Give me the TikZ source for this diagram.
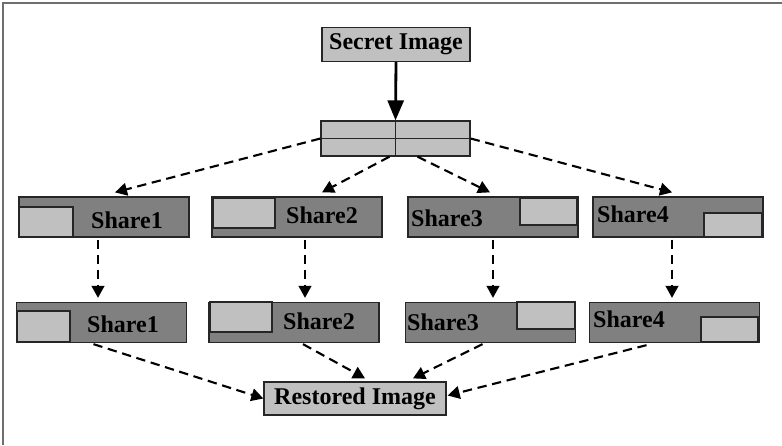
\documentclass[tikz,border=0pt]{standalone}
\usepackage{fontspec}
\setmainfont{Liberation Serif}
\usetikzlibrary{arrows.meta, positioning, calc}
\definecolor{darkshare}{HTML}{808080}
\definecolor{lightshare}{HTML}{C0C0C0}
\definecolor{edgegray}{HTML}{262626}
\definecolor{framegray}{HTML}{6E6E6E}

\begin{document}
\begin{tikzpicture}[
    x=0.03cm, y=-0.03cm,
    imgbox/.style={draw=edgegray, fill=lightshare, line width=1.1pt, minimum width=#1,
                   minimum height=1.02cm, inner sep=0pt, font=\fontsize{20.5}{22}\selectfont\bfseries},
    sharebox/.style={draw=edgegray, fill=darkshare, line width=1.1pt, minimum width=5.1cm,
                     minimum height=1.2cm, inner sep=0pt},
    piece/.style={draw=edgegray, fill=lightshare, line width=1.1pt},
    lbl/.style={font=\fontsize{20.5}{22}\selectfont\bfseries, inner sep=0pt},
    dasharrow/.style={-{Triangle[length=0.36cm,width=0.38cm]}, dash pattern=on 0.28cm off 0.17cm,
                      line width=1.8pt}
]
    \useasboundingbox (0,0) rectangle (782,445);
    \draw[framegray, line width=1.7pt] (3,445) -- (3,3) -- (782,3);

    % top
    \node[imgbox=4.44cm] (secret) at (396,44.5) {Secret Image};
    \node[imgbox=4.47cm, minimum height=1.05cm] (split) at (395.5,138.5) {};
    \draw[edgegray, line width=1pt] (split.north) -- (split.south);
    \draw[edgegray, line width=1pt] (split.west) -- (split.east);

    % shares, first row
    \node[sharebox] (s1a) at (104,217) {};
    \draw[piece] (19,207) rectangle (73,237);
    \node[lbl] (t1a) at (127,220) {Share1};
    \node[sharebox] (s2a) at (297,217) {};
    \draw[piece] (213,198) rectangle (275,228);
    \node[lbl] (t2a) at (322,215) {Share2};
    \node[sharebox] (s3a) at (493,217) {};
    \draw[piece] (520,198) rectangle (577,225);
    \node[lbl] (t3a) at (447,218) {Share3};
    \node[sharebox] (s4a) at (678,217) {};
    \draw[piece] (704,213) rectangle (762,237);
    \node[lbl] (t4a) at (633,214) {Share4};

    % shares, second row
    \node[sharebox] (s1b) at (101.5,322.5) {};
    \draw[piece] (17,311) rectangle (70,342);
    \node[lbl] (t1b) at (123,324) {Share1};
    \node[sharebox] (s2b) at (294,322.5) {};
    \draw[piece] (210,302) rectangle (272,332);
    \node[lbl] (t2b) at (319,321) {Share2};
    \node[sharebox] (s3b) at (490.5,322.5) {};
    \draw[piece] (517,302) rectangle (575,329);
    \node[lbl] (t3b) at (443,322) {Share3};
    \node[sharebox] (s4b) at (674.5,322.5) {};
    \draw[piece] (701,317) rectangle (758,342);
    \node[lbl] (t4b) at (629,319) {Share4};

    % bottom
    \node[imgbox=5.46cm, minimum height=0.99cm] (rest) at (355,398.5) {Restored Image};

    % arrows
    \draw[-{Triangle[length=0.6cm,width=0.48cm]}, line width=2.4pt] (secret.south) -- (split.north);

    \draw[dasharrow] (split.west) -- ($(s1a.north)+(11,-4)$);
    \draw[dasharrow] ($(split.south)+(-6,0)$) -- ($(s2a.north)+(25,-4)$);
    \draw[dasharrow] ($(split.south)+(22,0)$) -- ($(s3a.north)+(-3,-4)$);
    \draw[dasharrow] (split.east) -- ($(s4a.north)+(-6,-4)$);

    \draw[dasharrow] ($(s1a.south)+(-6,2)$) -- ($(s1b.north)+(-3.5,-4)$);
    \draw[dasharrow] ($(s2a.south)+(8,2)$) -- ($(s2b.north)+(11,-4)$);
    \draw[dasharrow] ($(s3a.south)+(0,2)$) -- ($(s3b.north)+(2.5,-4)$);
    \draw[dasharrow] ($(s4a.south)+(-6,2)$) -- ($(s4b.north)+(-2.5,-4)$);

    \draw[dasharrow] ($(s1b.south)+(-8,1)$) -- (rest.west);
    \draw[dasharrow] ($(s2b.south)+(9,1)$) -- ($(rest.north)+(10,-3)$);
    \draw[dasharrow] ($(s3b.south)+(-8,1)$) -- ($(rest.north)+(58,-3)$);
    \draw[dasharrow] ($(s4b.south)+(-28,2)$) -- ($(rest.east)+(1,-3)$);
\end{tikzpicture}
\end{document}
